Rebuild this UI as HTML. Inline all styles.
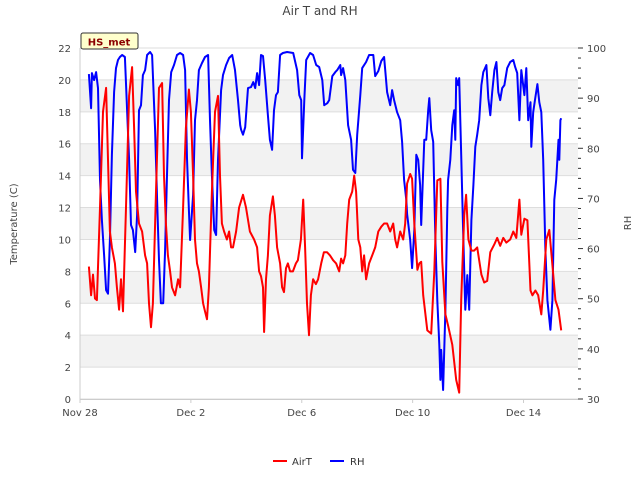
<!DOCTYPE html>
<html><head><meta charset="utf-8"><style>
body{margin:0;background:#fff;}
svg{display:block;font-family:"DejaVu Sans","Liberation Sans",sans-serif;}
</style></head><body>
<svg id="chart" width="640" height="480" viewBox="0 0 640 480" xmlns="http://www.w3.org/2000/svg">
<text x="320" y="15" text-anchor="middle" font-size="12" fill="#444">Air T and RH</text>
<text transform="translate(17,224) rotate(-90)" text-anchor="middle" font-size="10" fill="#444">Temperature (C)</text>
<text transform="translate(631,223) rotate(-90)" text-anchor="middle" font-size="10" fill="#444">RH</text>
<g id="grid"></g>
<g id="axes"></g>
<g id="series"></g>
<g>
<rect x="81" y="33" width="57" height="16" rx="2" fill="#ffffcc" stroke="#333" stroke-width="1"/>
<text x="109" y="45.5" text-anchor="middle" font-size="10" font-weight="bold" fill="#8b0000">HS_met</text>
</g>
<g>
<g>
<line x1="273" y1="461" x2="287" y2="461" stroke="#ff0000" stroke-width="2"/>
<text x="292" y="465" font-size="10" fill="#333">AirT</text></g>
<g>
<line x1="330" y1="461" x2="344" y2="461" stroke="#0000ff" stroke-width="2"/>
<text x="350" y="465" font-size="10" fill="#333">RH</text></g>
</g>
</svg>
<script>
const xTickDays = [0, 4, 8, 12, 16];
const xTickLabels = ["Nov 28", "Dec 2", "Dec 6", "Dec 10", "Dec 14"];
const tempTicks = [0,2,4,6,8,10,12,14,16,18,20,22];
const rhTicks = [30,40,50,60,70,80,90,100];
const airTimes = [0.32,0.40,0.47,0.54,0.61,0.72,0.83,0.94,1.01,1.08,1.15,1.26,1.33,1.41,1.48,1.55,1.66,1.77,1.88,1.95,2.02,2.13,2.24,2.35,2.42,2.49,2.56,2.63,2.74,2.85,2.96,3.03,3.10,3.17,3.25,3.32,3.43,3.54,3.61,3.72,3.82,3.93,4.00,4.08,4.15,4.22,4.29,4.37,4.44,4.51,4.58,4.65,4.76,4.87,4.98,5.05,5.12,5.20,5.30,5.38,5.45,5.52,5.63,5.74,5.88,5.99,6.13,6.28,6.39,6.46,6.53,6.60,6.64,6.71,6.78,6.85,6.96,7.03,7.11,7.22,7.29,7.36,7.43,7.50,7.58,7.68,7.79,7.86,7.97,8.05,8.12,8.19,8.26,8.33,8.41,8.51,8.59,8.70,8.80,8.91,9.02,9.13,9.24,9.35,9.42,9.49,9.57,9.64,9.71,9.82,9.89,9.96,10.04,10.11,10.18,10.25,10.32,10.43,10.54,10.65,10.76,10.87,10.97,11.08,11.19,11.30,11.37,11.44,
11.55,11.66,11.73,11.80,11.91,11.98,12.06,12.17,12.24,12.31,12.38,12.53,12.67,12.78,12.89,13.00,13.07,13.18,13.28,13.43,13.57,13.68,13.75,13.86,13.93,14.01,14.12,14.22,14.33,14.48,14.58,14.69,14.80,14.95,15.05,15.16,15.27,15.38,15.52,15.63,15.74,15.85,15.92,16.03,16.14,16.25,16.32,16.43,16.53,16.64,16.71,16.82,16.93,17.04,17.15,17.26,17.36];
const airValues = [8.3,6.5,7.8,6.3,6.2,12,18,19.5,15,10.5,9.5,8.5,7,5.6,7.5,5.5,12,19,20.8,17,13,11,10.5,9,8.5,6,4.5,6,13,19.5,19.8,14,11,9,8,7,6.5,7.5,7,12,17,19.4,18,14,10,8.5,8,7,6,5.5,5,7,13,18,19,14,11,10.5,10,10.5,9.5,9.5,10.5,12,12.8,12,10.5,10,9.5,8,7.7,7,4.2,7.5,9,11.5,12.7,11.5,9.5,8.5,7,6.7,8.2,8.5,8,8,8.5,8.7,10,12.5,9.5,6,4,6.5,7.5,7.2,7.5,8.5,9.2,9.2,9,8.7,8.5,8,8.8,8.5,9,11,12.5,13,14,13,10,9.5,8,9,7.5,8.5,9,9.5,10.5,10.8,11,11,10.5,11,10,9.5,
10.5,10,11,13.5,14.1,13.8,11,8.1,8.5,8.6,6.5,4.3,4.1,8,13.7,13.8,8.6,5.3,4.6,3.4,1.2,0.4,6.2,11.5,12.8,10,9.3,9.3,9.5,7.8,7.3,7.4,9.2,9.7,10.1,9.6,10.1,9.8,10,10.5,10.1,12.5,10.3,11.3,11.2,6.8,6.5,6.8,6.5,5.3,6.8,10,10.6,8.4,6.2,5.6,4.3];
const rhTimes = [0.32,0.40,0.43,0.51,0.58,0.65,0.72,0.79,0.87,0.94,1.01,1.08,1.15,1.23,1.30,1.37,1.44,1.52,1.62,1.70,1.77,1.84,1.91,1.99,2.06,2.13,2.20,2.27,2.35,2.42,2.53,2.60,2.71,2.78,2.85,2.92,3.00,3.07,3.14,3.21,3.29,3.39,3.50,3.61,3.72,3.79,3.86,3.93,3.97,4.08,4.15,4.22,4.29,4.40,4.51,4.62,4.69,4.76,4.84,4.91,4.98,5.09,5.16,5.27,5.38,5.49,5.59,5.70,5.78,5.81,5.88,5.96,6.06,6.17,6.25,6.32,6.39,6.46,6.53,6.60,6.68,6.78,6.85,6.93,7.00,7.07,7.14,7.22,7.32,7.47,7.69,7.83,7.91,7.98,8.01,8.09,8.16,8.30,8.41,8.52,8.63,8.74,8.81,8.92,8.99,9.10,9.21,9.28,9.39,9.42,9.49,9.57,9.67,9.78,9.85,9.93,10.00,10.11,10.18,10.32,10.43,10.58,10.65,10.76,10.87,10.97,11.08,11.19,11.26,11.33,11.44,11.55,11.62,11.69,11.77,11.80,11.91,11.98,12.06,12.13,12.20,12.27,12.31,12.38,12.42,12.49,12.56,12.60,12.67,12.74,12.82,12.89,12.96,13.00,13.03,13.10,13.18,13.25,13.28,13.36,13.43,13.50,13.54,13.57,13.64,13.68,13.75,13.82,13.90,13.97,14.04,14.12,14.19,14.26,14.33,14.40,14.48,14.55,14.66,14.73,14.80,14.87,14.95,15.02,15.09,15.16,15.23,15.31,15.41,15.52,15.63,15.70,15.77,15.85,15.92,16.03,16.10,16.17,16.25,16.28,16.35,16.43,16.50,16.57,16.64,16.71,16.79,16.86,16.97,17.04,17.11,17.18,17.26,17.29,17.33,17.36];
const rhValues = [94.8,88,95,93.6,95.2,92,73.7,65.7,58.7,51.7,51,61.7,78.7,91.2,96,97.6,98.2,98.6,98.2,87.6,77.7,64.7,63.7,59.3,66.7,87.6,88.6,94.6,95.6,98.6,99.2,98.6,83.6,69.7,57.7,49.1,49.1,59.7,74.7,89.6,95.2,96.6,98.6,99,98.6,95.6,78,67.7,61.7,70.7,85.6,89.6,95.6,97,98.2,98.6,85.6,74.7,63.7,62.7,77.7,91.6,94.6,96.6,98,98.6,95.6,89.6,84.6,83.7,82.7,84.2,92,92.2,93.2,92,95,92.6,98.6,98.4,93.6,86.6,81.7,79.7,87.6,90.6,91.2,98.6,99,99.2,99,95.6,90.6,89.6,78,89.6,97.6,99,98.6,96.6,96.2,93.6,88.6,89,89.6,94.4,95.2,95.6,96.6,94.6,96,93.6,84.6,81.7,75.7,75.1,82.7,90.6,96,97.2,98.6,98.6,94.4,95.4,97.4,98.2,91.2,88.6,91.6,89.6,87.2,85.6,81.3,73.7,69.7,66.9,61.7,56.1,63.7,78.7,77.7,72.7,64.7,75.7,81.7,81.7,87.6,90,83.6,81.3,61.7,49.7,40.8,33.8,39.8,31.8,47.8,67.7,73.7,77.7,84.6,87.6,81.7,94,92.6,94,78.7,63.7,47.8,54.7,47.8,65.7,72.7,80.3,82.7,85.6,92.6,95.2,96.6,90,86.6,91.2,95.6,97.2,91.2,89.6,92,92.6,96,97.2,97.6,96.2,95,85.6,95.6,90.6,96,85.6,89.2,80.3,87.2,90.2,92.8,89.2,87.2,77.7,59.7,49.7,43.8,49.7,69.7,73.7,81.7,77.7,85.6,86];

const NS = "http://www.w3.org/2000/svg";
const L = 80, R = 578, T = 48, B = 399;
const xMax = 17.965;
function xs(d){ return L + d / xMax * (R - L); }
function yT(v){ return B - v / 22 * (B - T); }
function yH(v){ return B - (v - 30) / 70 * (B - T); }
function mk(tag, attrs, parent){ const e = document.createElementNS(NS, tag); for (const k in attrs) e.setAttribute(k, attrs[k]); parent.appendChild(e); return e; }

const grid = document.getElementById('grid');
for (let i = 0; i < tempTicks.length - 1; i++) {
  const band = mk('rect', {x: L, y: yT(tempTicks[i+1]), width: R - L, height: yT(tempTicks[i]) - yT(tempTicks[i+1]), fill: (i % 2 === 1) ? '#f2f2f2' : '#ffffff'}, grid);
  
  
}
tempTicks.forEach(v => {
  const g = mk('line', {x1: L, x2: R, y1: yT(v), y2: yT(v), stroke: '#dddddd', 'stroke-width': 1}, grid);
  
  
});

const axes = document.getElementById('axes');
mk('line', {x1: L, x2: L, y1: T, y2: B, stroke: '#cccccc'}, axes);
mk('line', {x1: L, x2: R, y1: B + 0.5, y2: B + 0.5, stroke: '#cccccc'}, axes);
tempTicks.forEach(v => {
  const t = mk('text', {x: 71, y: yT(v) + 4, 'text-anchor': 'end', 'font-size': 10, fill: '#444'}, axes);
  t.textContent = v;
  
  
});
for (let v = 30; v <= 100; v += 2) {
  const major = v % 10 === 0;
  mk('line', {x1: R, x2: R + (major ? 5 : 3), y1: yH(v), y2: yH(v), stroke: '#333', 'stroke-width': 1}, axes);
}
rhTicks.forEach(v => {
  const t = mk('text', {x: 587, y: yH(v) + 4, 'font-size': 10, fill: '#444'}, axes);
  t.textContent = v;
  
  
});
xTickDays.forEach((d, i) => {
  mk('line', {x1: xs(d), x2: xs(d), y1: B, y2: B + 4, stroke: '#ccc'}, axes);
  const t = mk('text', {x: xs(d), y: 416, 'text-anchor': 'middle', 'font-size': 10, fill: '#444'}, axes);
  t.textContent = xTickLabels[i];
  
  
});

const series = document.getElementById('series');
const rhPts = rhTimes.map((d, i) => xs(d).toFixed(1) + ',' + yH(rhValues[i]).toFixed(1)).join(' ');
const rhLine = mk('polyline', {points: rhPts, fill: 'none', stroke: '#0000ff', 'stroke-width': 2, 'stroke-linejoin': 'round'}, series);


const airPts = airTimes.map((d, i) => xs(d).toFixed(1) + ',' + yT(airValues[i]).toFixed(1)).join(' ');
const airLine = mk('polyline', {points: airPts, fill: 'none', stroke: '#ff0000', 'stroke-width': 2, 'stroke-linejoin': 'round'}, series);


</script>
</body></html>
